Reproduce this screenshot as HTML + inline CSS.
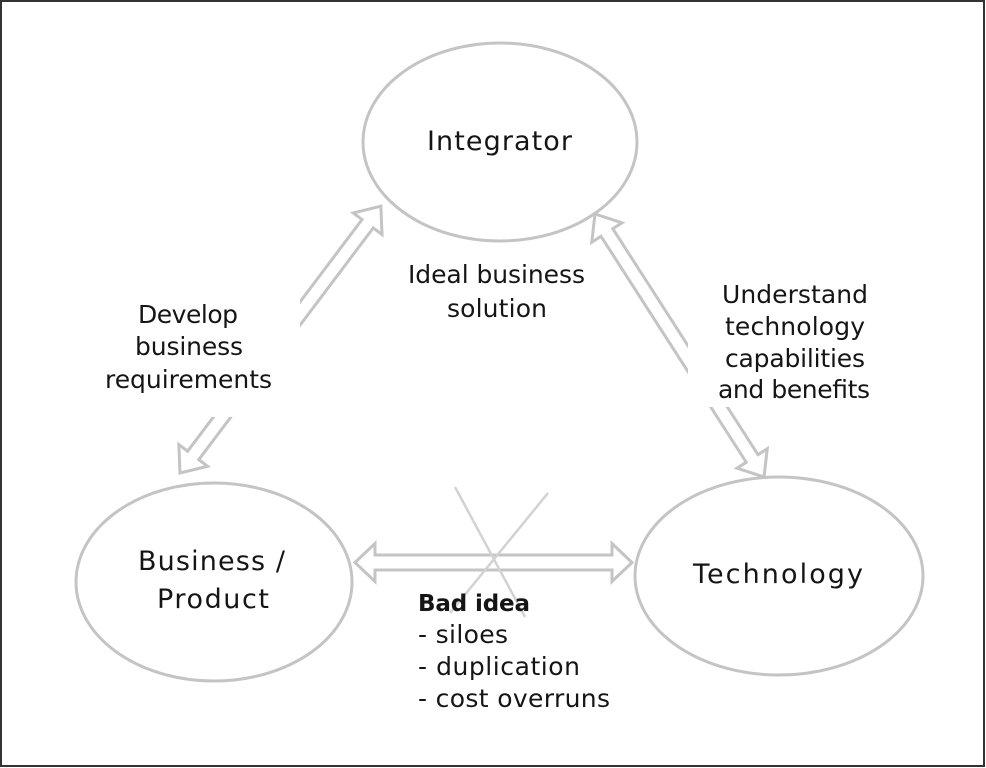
<!DOCTYPE html>
<html>
<head>
<meta charset="utf-8">
<style>
  html, body { margin: 0; padding: 0; background: #ffffff; }
  body { width: 986px; height: 768px; overflow: hidden; }
  svg { display: block; }
  text { font-family: "DejaVu Sans", "Liberation Sans", sans-serif; fill: #151515; }
</style>
</head>
<body>
<svg width="986" height="768" viewBox="0 0 986 768" xmlns="http://www.w3.org/2000/svg">
  <rect x="0" y="0" width="986" height="768" fill="#ffffff"/>
  <!-- outer border -->
  <rect x="1" y="1" width="983" height="765" fill="none" stroke="#333333" stroke-width="2"/>

  <!-- ellipses -->
  <ellipse cx="500" cy="142" rx="137" ry="99" fill="#ffffff" stroke="#c4c4c4" stroke-width="3"/>
  <ellipse cx="214" cy="582" rx="138" ry="99" fill="#ffffff" stroke="#c4c4c4" stroke-width="3"/>
  <ellipse cx="779" cy="576" rx="144" ry="99" fill="#ffffff" stroke="#c4c4c4" stroke-width="3"/>

  <!-- left double arrow -->
  <g transform="translate(180,473) rotate(-53.03)">
    <path d="M22,7 L22,18 L0,0 L22,-18 L22,-7 L312,-7 L312,-18 L334,0 L312,18 L312,7 Z"
          fill="#ffffff" stroke="#c4c4c4" stroke-width="3" stroke-linejoin="miter"/>
  </g>
  <!-- right double arrow -->
  <g transform="translate(595,214) rotate(57.27)">
    <path d="M22,7 L22,18 L0,0 L22,-18 L22,-7 L290.6,-7 L290.6,-18 L312.6,0 L290.6,18 L290.6,7 Z"
          fill="#ffffff" stroke="#c4c4c4" stroke-width="3" stroke-linejoin="miter"/>
  </g>

  <!-- white label boxes covering arrow shafts -->
  <rect x="76" y="285" width="224" height="132" fill="#ffffff"/>
  <rect x="688" y="270" width="222" height="137" fill="#ffffff"/>

  <!-- horizontal double arrow -->
  <path d="M375,570 L375,581.5 L355,562.5 L375,543.5 L375,555 L612,555 L612,543.5 L632,562.5 L612,581.5 L612,570 Z"
        fill="#ffffff" stroke="#c4c4c4" stroke-width="3" stroke-linejoin="miter"/>

  <!-- the cross -->
  <line x1="455" y1="487" x2="525" y2="617" stroke="#d2d2d2" stroke-width="2.5"/>
  <line x1="548" y1="493" x2="450" y2="613" stroke="#d2d2d2" stroke-width="2.5"/>

  <!-- node labels -->
  <text x="499.5" y="150" font-size="27" text-anchor="middle" textLength="145" lengthAdjust="spacing">Integrator</text>
  <text x="211.5" y="570" font-size="27" text-anchor="middle" textLength="147" lengthAdjust="spacing">Business /</text>
  <text x="213" y="608" font-size="27" text-anchor="middle" textLength="112" lengthAdjust="spacing">Product</text>
  <text x="778" y="583" font-size="27" text-anchor="middle" textLength="170" lengthAdjust="spacing">Technology</text>

  <!-- connector labels -->
  <text x="496.5" y="283" font-size="25" text-anchor="middle" textLength="177" lengthAdjust="spacing">Ideal business</text>
  <text x="497" y="317" font-size="25" text-anchor="middle" textLength="100" lengthAdjust="spacing">solution</text>

  <text x="188" y="323" font-size="25" text-anchor="middle" textLength="100" lengthAdjust="spacing">Develop</text>
  <text x="189" y="355" font-size="25" text-anchor="middle" textLength="108" lengthAdjust="spacing">business</text>
  <text x="188.5" y="388" font-size="25" text-anchor="middle" textLength="167" lengthAdjust="spacing">requirements</text>

  <text x="795" y="303" font-size="25" text-anchor="middle" textLength="146" lengthAdjust="spacing">Understand</text>
  <text x="795" y="335" font-size="25" text-anchor="middle" textLength="140" lengthAdjust="spacing">technology</text>
  <text x="795" y="367" font-size="25" text-anchor="middle" textLength="140" lengthAdjust="spacing">capabilities</text>
  <text x="794" y="398" font-size="25" text-anchor="middle" textLength="152" lengthAdjust="spacing">and benefits</text>

  <text x="418" y="611" font-size="23" font-weight="bold" textLength="112" lengthAdjust="spacing">Bad idea</text>
  <text x="418" y="643" font-size="25" textLength="90" lengthAdjust="spacing">- siloes</text>
  <text x="418" y="675" font-size="25" textLength="162" lengthAdjust="spacing">- duplication</text>
  <text x="418" y="707" font-size="25" textLength="192" lengthAdjust="spacing">- cost overruns</text>
</svg>
</body>
</html>
